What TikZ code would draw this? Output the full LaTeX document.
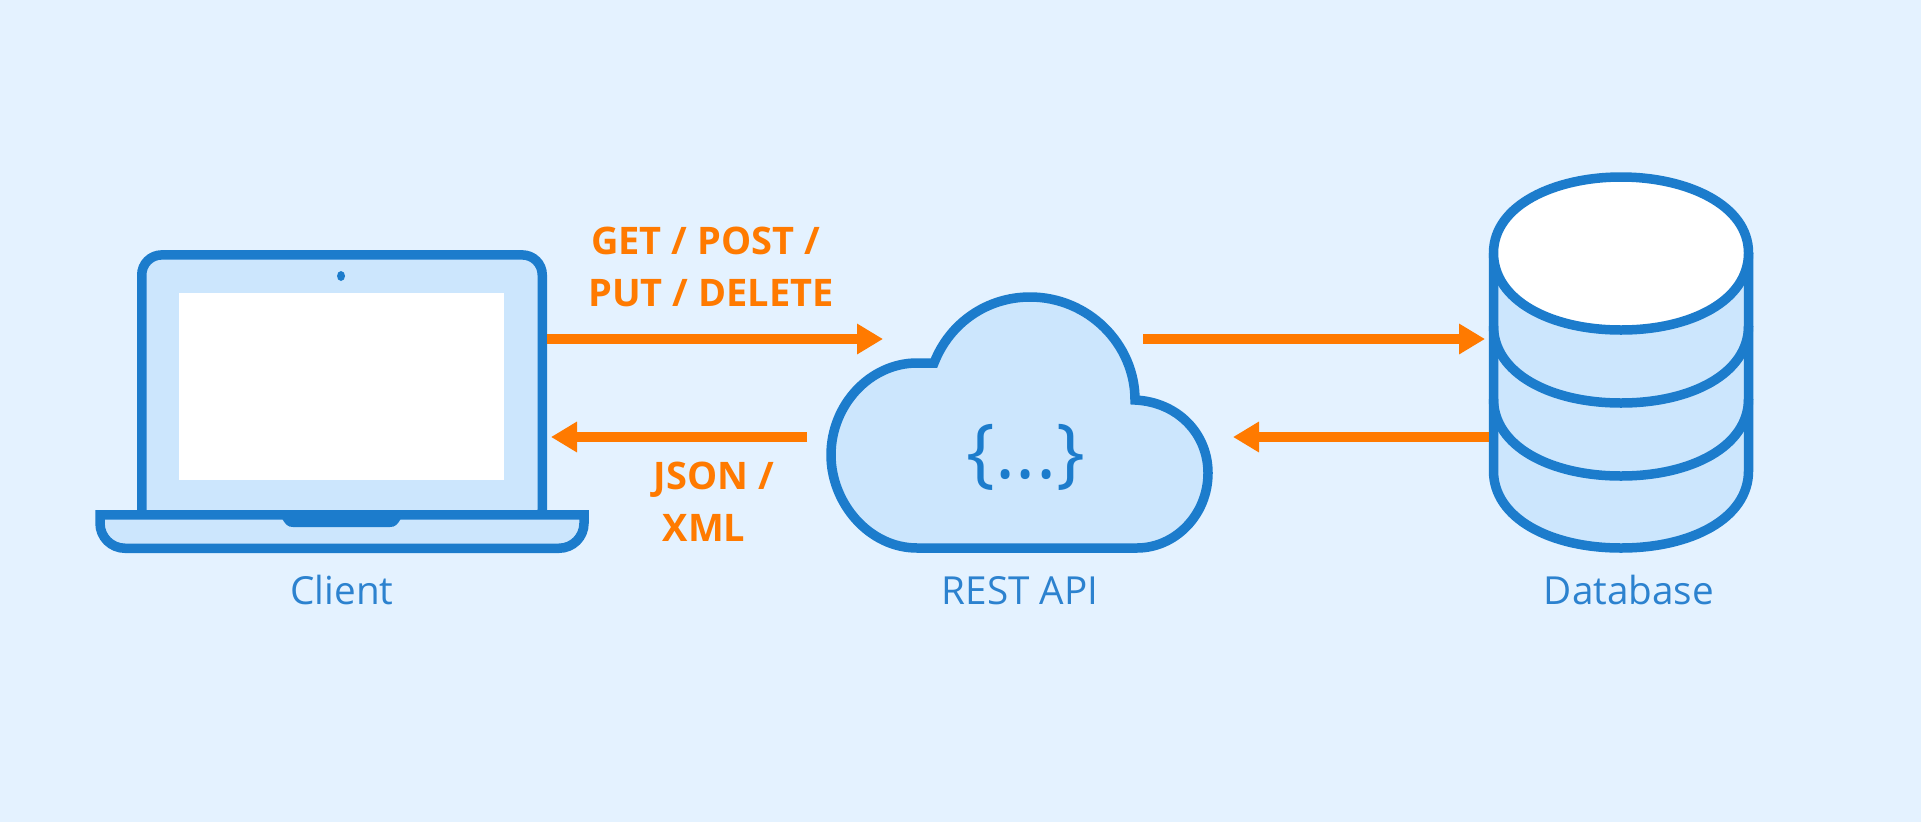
\documentclass[tikz,border=0pt]{standalone}
\usepackage{fontspec}
\setmainfont{Open Sans}
\usetikzlibrary{arrows.meta}
\definecolor{pagebg}{HTML}{E4F2FF}
\definecolor{iconfill}{HTML}{CCE6FD}
\definecolor{iconline}{HTML}{1C7CCC}
\definecolor{flowcol}{HTML}{FF7A00}
\definecolor{namecol}{HTML}{2C82CF}
\begin{document}
\begin{tikzpicture}[x=.1mm,y=-.1mm,
    icon/.style={draw=iconline,line width=.95mm,fill=iconfill},
    flow/.style={draw=flowcol,line width=.95mm,-{Triangle[length=2.6mm,width=2.9mm]}},
    iconname/.style={text=namecol,anchor=base,inner sep=0,font=\fontsize{11}{13}\selectfont},
    verbtext/.style={text=flowcol,align=center,inner sep=0,font=\fontsize{10.8}{14.8}\selectfont\bfseries}]
    \fill[pagebg] (0,0) rectangle (1921,822);
    \useasboundingbox (0,0) rectangle (1921,822);

    \node[icon,rounded corners=2mm,minimum width=40.05mm,minimum height=27.5mm,inner sep=0] (client) at (342,392.4) {};
    \node[fill=white,minimum width=32.5mm,minimum height=18.7mm,inner sep=0,outer sep=0] (screen) at (341.5,386.5) {};
    \fill[iconline] (341,276) ellipse [x radius=4,y radius=5];
    \draw[icon] (100,514.75) -- (584,514.75) {[rounded corners=2.5mm] -- (584,548.25) -- (100,548.25)} -- cycle;
    \fill[iconline] (281,516) .. controls (285,525) and (288,527) .. (293,527) -- (390,527)
        .. controls (395,527) and (398,525) .. (402,516) -- cycle;
    \node[iconname] (clientname) at (342,604) {Client};

    \draw[icon] (934,363) .. controls (950,322) and (988,297) .. (1030,297)
        .. controls (1088,297) and (1135,344) .. (1135,400)
        .. controls (1178,402) and (1208,434) .. (1208,473)
        .. controls (1208,515) and (1175,548) .. (1137,548) -- (917,548)
        .. controls (869,548) and (831,503) .. (831,455)
        .. controls (831,405) and (870,363) .. (917,363)
        .. controls (923,363) and (928,363) .. (934,363) -- cycle;
    \node[text=iconline,anchor=base,inner sep=0,font=\fontsize{21.6}{22}\selectfont] (braces) at (1026,478) {\{...\}};
    \node[iconname] (apiname) at (1020,604) {REST API};

    \node[fill=iconfill,minimum width=26.4mm,minimum height=21.8mm,inner sep=0,outer sep=0] (db) at (1621,362) {};
    \draw[icon] (1493.5,253) -- (1493.5,471) .. controls (1493.5,518) and (1550,548) .. (1621,548)
        .. controls (1692,548) and (1748.5,518) .. (1748.5,471) -- (1748.5,253);
    \draw[icon,fill=none] (1493.5,399) .. controls (1493.5,446) and (1550,476) .. (1621,476)
        .. controls (1692,476) and (1748.5,446) .. (1748.5,399);
    \draw[icon,fill=none] (1493.5,326) .. controls (1493.5,373) and (1550,403) .. (1621,403)
        .. controls (1692,403) and (1748.5,373) .. (1748.5,326);
    \draw[icon,fill=white] (1493.5,253) .. controls (1493.5,205) and (1555,177) .. (1621,177)
        .. controls (1687,177) and (1748.5,205) .. (1748.5,253)
        .. controls (1748.5,300) and (1692,330) .. (1621,330)
        .. controls (1550,330) and (1493.5,300) .. (1493.5,253) -- cycle;
    \node[iconname] (dbname) at (1629,604) {Database};

    \coordinate (apiget) at (883,339);
    \coordinate (apipost) at (1143,339);
    \coordinate (apiret) at (807,437);
    \coordinate (apidb) at (1233,437);
    \draw[flow] (client.east |- apiget) -- (apiget);
    \draw[flow,shorten >=.4mm] (apipost) -- (db.west |- apipost);
    \draw[flow,shorten >=.4mm] (apiret) -- (client.east |- apiret);
    \draw[flow] (db.west |- apidb) -- (apidb);

    \node[verbtext] (verbs) at (711,267) {GET / POST /\hspace*{1.1mm}\\PUT / DELETE};
    \node[verbtext] (formats) at (714,502) {JSON /\\XML\hspace*{2mm}};
\end{tikzpicture}
\end{document}
